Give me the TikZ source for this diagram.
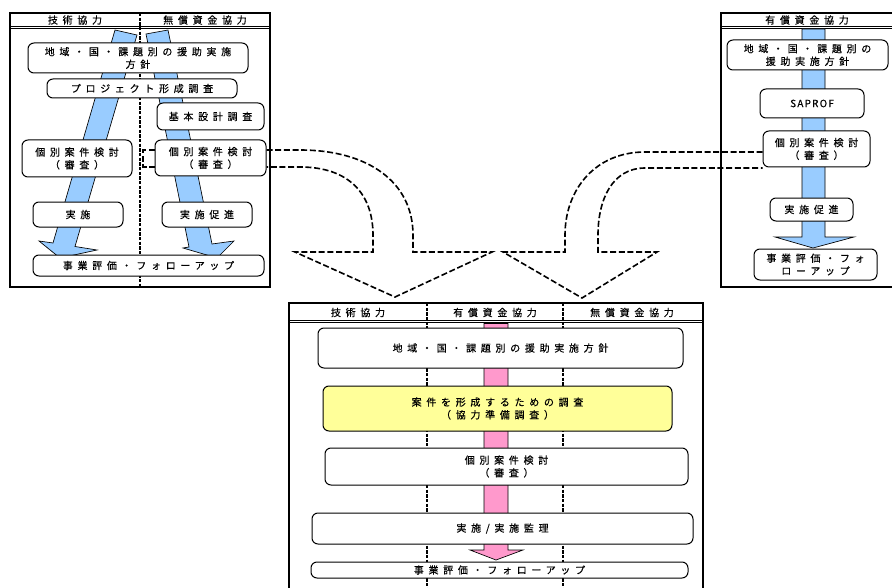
\documentclass[tikz,border=0pt]{standalone}
\usepackage{fontspec}
\newfontfamily\jpfont[LetterSpace=47,FakeBold=0.3]{Noto Sans CJK JP}
\newfontfamily\jplatin[LetterSpace=12,FakeBold=0.3]{Noto Sans CJK JP}
\definecolor{flowblue}{RGB}{153,204,255}
\definecolor{flowpink}{RGB}{255,153,204}
\definecolor{noteyellow}{RGB}{255,255,153}
\tikzset{every picture/.style={line width=0.75pt},
  panel/.style={line width=1.6pt},
  hdrline/.style={line width=0.5pt},
  divider/.style={line width=1.2pt, dash pattern=on 2.5pt off 1pt},
  box/.style={draw, fill=white, rounded corners=4.5pt, inner sep=0pt, align=center,
    font={\jpfont\fontsize{7.5}{9.5}\selectfont}},
  hdr/.style={inner sep=0.75pt, font={\jpfont\fontsize{7.5}{9.5}\selectfont}},
  flowarrow/.style={draw, line width=0.5pt},
  bigflow/.style={line width=1.2pt, dash pattern=on 4.5pt off 2pt}
}
\begin{document}
\begin{tikzpicture}[x=0.75pt,y=0.75pt,yscale=-1,xscale=1]
\useasboundingbox (0,0) rectangle (892,588);

%Shape: Rectangle -- left panel
\draw [panel] (10,13) rectangle (270,287);
\draw [hdrline] (10,26) -- (270,26) (10,28.5) -- (270,28.5);
\draw [divider] (140,13) -- (140,287);
%Shape: Rectangle -- right panel
\draw [panel] (892,13) -- (721,13) -- (721,287) -- (892,287);
\draw [hdrline] (721,26) -- (892,26) (721,28.5) -- (892,28.5);
%Shape: Rectangle -- bottom panel
\draw [panel] (289,588) -- (289,303) -- (703,303) -- (703,588);
\draw [hdrline] (289,320) -- (703,320) (289,322.5) -- (703,322.5);
\draw [divider] (427,303) -- (427,588);
\draw [divider] (563,303) -- (563,588);

%Shape: Arrows
\draw [flowarrow, fill=flowblue] (115,30) -- (137,35) -- (75,246.5) -- (97,250) -- (60,258) -- (39,241) -- (53,243) -- cycle;
\draw [flowarrow, fill=flowblue] (146,34) -- (168,30) -- (212,244) -- (234,241) -- (217,258) -- (183,248) -- (189,247) -- cycle;
\draw [flowarrow, fill=flowblue] (802,29) -- (825,29) -- (825,237) -- (854,237) -- (813,248) -- (775,237) -- (802,237) -- cycle;
\draw [flowarrow, fill=flowpink] (484,323.5) -- (508,323.5) -- (508,550) -- (523,550) -- (496,560) -- (470,550) -- (484,550) -- cycle;

% Text Node -- headers
\node [hdr] (lh1) at (75,20) {技術協力};
\node [hdr] (lh2) at (205,20) {無償資金協力};
\node [hdr] (rh1) at (807,20) {有償資金協力};
\node [hdr] (bh1) at (358,312.5) {技術協力};
\node [hdr] (bh2) at (495,312.5) {有償資金協力};
\node [hdr] (bh3) at (632,312.5) {無償資金協力};

% Text Node -- left panel
\node [box, minimum width=165pt, minimum height=22.5pt] (lt1) at (138,58) {地域・国・課題別の援助実施\\方針};
\node [box, minimum width=142.5pt, minimum height=14.25pt] (lt2) at (142,88.5) {プロジェクト形成調査};
\node [box, minimum width=80.25pt, minimum height=20.25pt] (lt3) at (210.5,116.5) {基本設計調査};
\node [box, minimum width=82.5pt, minimum height=27.75pt] (lt4) at (77,158.5) {個別案件検討\\（審査）};
\node [box, minimum width=83.25pt, minimum height=27pt] (lt5) at (210.5,158) {個別案件検討\\（審査）};
\node [box, minimum width=67.5pt, minimum height=18.75pt] (lt6) at (78,214.5) {実施};
\node [box, minimum width=67.5pt, minimum height=18.75pt] (lt7) at (207,214.5) {実施促進};
\node [box, minimum width=173.25pt, minimum height=15.75pt] (lt8) at (148.5,265.5) {事業評価・フォローアップ};

% Text Node -- right panel
\node [box, minimum width=120.75pt, minimum height=22.5pt] (rt1) at (807.5,55) {地域・国・課題別の\\援助実施方針};
\node [box, minimum width=78pt, minimum height=21.75pt, font={\jplatin\fontsize{7.5}{9.5}\selectfont}] (rt2) at (812,103.5) {SAPROF};
\node [box, minimum width=80.25pt, minimum height=27pt] (rt3) at (816.5,149) {個別案件検討\\（審査）};
\node [box, minimum width=62.25pt, minimum height=17.25pt] (rt4) at (811.5,209.5) {実施促進};
\node [box, minimum width=92.25pt, minimum height=23.25pt] (rt5) at (815.5,264.5) {事業評価・フォ\\ローアップ};

% Text Node -- bottom panel
\node [box, minimum width=273.75pt, minimum height=30pt] (bt1) at (500.5,348) {地域・国・課題別の援助実施方針};
\node [box, fill=noteyellow, minimum width=261.75pt, minimum height=33.75pt] (bt2) at (497.5,408.5) {案件を形成するための調査\\（協力準備調査）};
\node [box, minimum width=272.25pt, minimum height=27.75pt] (bt3) at (506.5,466.5) {個別案件検討\\（審査）};
\node [box, minimum width=285.75pt, minimum height=23.25pt] (bt4) at (502.5,528.5) {実施/実施監理};
\node [box, minimum width=282.75pt, minimum height=12pt] (bt5) at (499.5,570) {事業評価・フォローアップ};

%Straight Lines -- dashed flows into the bottom panel
\draw [bigflow] (lt5.west |- 0,150) -- (143,150) -- (143,167) -- (lt5.west |- 0,167);
\draw [bigflow] (lt5.east |- 0,150) -- (300,150) .. controls (368,150) and (413,182) .. (413,235) -- (413,252) -- (492,252) -- (395,297) -- (295,252) -- (373,252) -- (373,235) .. controls (373,195) and (350,167) .. (300,167) -- (lt5.east |- 0,167);
\draw [bigflow] (rt3.west |- 0,152) -- (645,152) .. controls (595,152) and (565,190) .. (565,235) -- (565,252) -- (503,252) -- (582,298) -- (657,252) -- (598,252) -- (598,235) .. controls (598,200) and (612,168) .. (645,168) -- (rt3.west |- 0,168);

\end{tikzpicture}
\end{document}
